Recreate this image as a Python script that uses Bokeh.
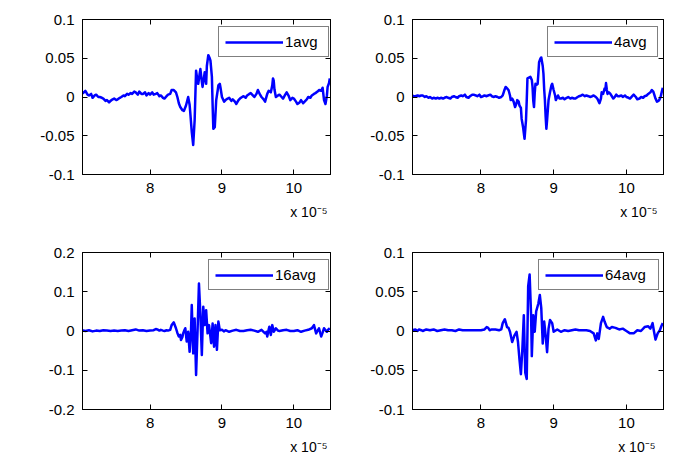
from bokeh.plotting import figure
from bokeh.layouts import column, row
from bokeh.models import Range1d, FixedTicker, LinearAxis, Legend, LegendItem, Title
from bokeh.embed import file_html
from bokeh.resources import INLINE

FONT = "Liberation Sans"
BLUE = "#0000ff"

# ---------------- data (time in units of 1e-5 s) ----------------
t_1avg = [7.05, 7.08, 7.10, 7.13, 7.15, 7.18, 7.20, 7.23, 7.25, 7.28,
          7.30, 7.33, 7.35, 7.38, 7.40, 7.43, 7.45, 7.48, 7.50, 7.53,
          7.55, 7.58, 7.60, 7.63, 7.65, 7.68, 7.70, 7.73, 7.75, 7.78,
          7.80, 7.83, 7.85, 7.88, 7.90, 7.93, 7.95, 7.98, 8.00, 8.03,
          8.05, 8.08, 8.10, 8.13, 8.15, 8.18, 8.20, 8.23, 8.25, 8.28,
          8.30, 8.33, 8.36, 8.38, 8.40, 8.42, 8.45, 8.47, 8.50, 8.53,
          8.55, 8.56, 8.58, 8.60, 8.62, 8.64, 8.66, 8.67, 8.69, 8.70,
          8.72, 8.73, 8.75, 8.76, 8.78, 8.79, 8.81, 8.83, 8.84, 8.86,
          8.87, 8.88, 8.90, 8.92, 8.94, 8.95, 8.97, 8.98, 9.00, 9.03,
          9.05, 9.08, 9.10, 9.13, 9.15, 9.18, 9.20, 9.23, 9.25, 9.28,
          9.30, 9.33, 9.35, 9.38, 9.40, 9.43, 9.45, 9.48, 9.50, 9.53,
          9.55, 9.58, 9.60, 9.63, 9.65, 9.68, 9.70, 9.71, 9.72, 9.73,
          9.75, 9.78, 9.80, 9.83, 9.85, 9.88, 9.90, 9.93, 9.95, 9.98,
          10.00, 10.03, 10.05, 10.08, 10.10, 10.13, 10.15, 10.18, 10.20, 10.23,
          10.25, 10.28, 10.30, 10.33, 10.35, 10.38, 10.40, 10.42, 10.44, 10.46,
          10.47, 10.49, 10.50]
v_1avg = [0.004, 0.006, 0.008, 0.003, 0.002, 0.004, -0.001, 0.002, 0.003, 0.000,
          0.000, -0.001, -0.002, -0.005, -0.004, -0.007, -0.005, -0.003, -0.002, -0.004,
          -0.003, -0.001, 0.000, 0.002, 0.001, 0.004, 0.003, 0.005, 0.004, 0.007,
          0.006, 0.003, 0.007, 0.004, 0.004, 0.006, 0.002, 0.005, 0.003, 0.006,
          0.003, 0.004, 0.005, 0.001, 0.002, -0.001, -0.002, 0.001, 0.003, 0.004,
          0.009, 0.009, 0.006, 0.000, -0.008, -0.013, -0.017, -0.018, -0.011, 0.000,
          -0.010, -0.021, -0.045, -0.062, -0.030, 0.034, 0.020, 0.017, 0.030, 0.036,
          0.020, 0.013, 0.025, 0.032, 0.017, 0.040, 0.054, 0.050, 0.047, 0.026,
          -0.010, -0.041, -0.039, -0.004, 0.008, 0.015, 0.017, 0.012, 0.000, -0.006,
          -0.004, -0.002, -0.001, -0.005, -0.003, -0.006, -0.009, -0.004, -0.002, 0.000,
          0.001, -0.001, 0.002, 0.004, 0.005, 0.002, 0.000, 0.004, 0.009, 0.003,
          0.000, -0.003, -0.006, 0.004, 0.008, 0.006, 0.015, 0.024, 0.021, 0.010,
          0.000, 0.002, 0.003, 0.000, -0.002, 0.003, 0.006, 0.001, -0.004, -0.001,
          -0.002, -0.006, -0.009, -0.007, -0.004, -0.008, -0.006, -0.003, 0.000, -0.001,
          0.002, 0.004, 0.005, 0.007, 0.009, 0.008, 0.012, -0.004, -0.009, 0.002,
          0.013, 0.018, 0.024]

t_4avg = [7.05, 7.08, 7.10, 7.13, 7.15, 7.18, 7.20, 7.23, 7.25, 7.28,
          7.30, 7.33, 7.35, 7.38, 7.40, 7.43, 7.45, 7.48, 7.50, 7.53,
          7.55, 7.58, 7.60, 7.63, 7.65, 7.68, 7.70, 7.73, 7.75, 7.78,
          7.80, 7.83, 7.85, 7.88, 7.90, 7.93, 7.95, 7.98, 8.00, 8.03,
          8.05, 8.08, 8.10, 8.13, 8.15, 8.18, 8.20, 8.23, 8.25, 8.28,
          8.30, 8.32, 8.34, 8.36, 8.38, 8.40, 8.41, 8.43, 8.45, 8.47,
          8.49, 8.50, 8.52, 8.53, 8.55, 8.56, 8.58, 8.60, 8.62, 8.63,
          8.64, 8.66, 8.68, 8.70, 8.71, 8.72, 8.73, 8.74, 8.75, 8.77,
          8.78, 8.79, 8.80, 8.82, 8.83, 8.85, 8.86, 8.87, 8.88, 8.89,
          8.90, 8.91, 8.93, 8.95, 8.97, 8.98, 9.00, 9.02, 9.03, 9.05,
          9.06, 9.08, 9.10, 9.13, 9.15, 9.18, 9.20, 9.23, 9.25, 9.28,
          9.30, 9.33, 9.35, 9.38, 9.40, 9.43, 9.45, 9.48, 9.50, 9.53,
          9.55, 9.58, 9.60, 9.62, 9.63, 9.65, 9.66, 9.68, 9.70, 9.71,
          9.72, 9.73, 9.74, 9.76, 9.78, 9.80, 9.82, 9.84, 9.86, 9.88,
          9.90, 9.93, 9.95, 9.98, 10.00, 10.03, 10.05, 10.08, 10.10, 10.13,
          10.15, 10.18, 10.20, 10.23, 10.25, 10.28, 10.30, 10.33, 10.35, 10.37,
          10.38, 10.40, 10.42, 10.44, 10.45, 10.47, 10.48, 10.50]
v_4avg = [0.002, 0.001, 0.001, 0.002, 0.001, 0.002, 0.002, 0.000, 0.001, -0.001,
          0.000, -0.002, -0.001, -0.002, -0.001, -0.002, -0.001, -0.002, -0.001, 0.000,
          -0.001, -0.002, 0.000, 0.001, 0.000, -0.001, 0.001, 0.002, 0.001, 0.003,
          0.000, -0.001, 0.001, 0.003, 0.003, 0.002, 0.001, 0.003, 0.000, 0.001,
          0.002, 0.001, 0.002, 0.003, 0.001, 0.000, 0.001, 0.000, -0.001, 0.000,
          0.002, 0.008, 0.013, 0.011, 0.009, 0.002, -0.004, -0.002, -0.006, -0.013,
          -0.008, -0.004, -0.006, -0.011, -0.014, -0.028, -0.039, -0.054, -0.030, -0.005,
          0.024, 0.025, 0.026, 0.022, 0.013, -0.005, -0.013, 0.005, 0.017, 0.016,
          0.017, 0.030, 0.045, 0.050, 0.051, 0.040, 0.030, 0.010, -0.004, -0.025,
          -0.041, -0.030, -0.004, 0.006, 0.015, 0.017, 0.009, 0.002, -0.004, 0.000,
          0.002, -0.002, -0.002, -0.001, -0.003, -0.001, 0.000, -0.002, -0.001, -0.002,
          -0.002, 0.000, 0.001, 0.002, 0.003, 0.001, 0.002, 0.001, 0.000, 0.001,
          0.002, 0.000, -0.002, -0.006, -0.008, -0.002, 0.006, 0.004, 0.011, 0.009,
          0.018, 0.010, 0.004, 0.006, 0.004, 0.001, -0.002, 0.000, 0.003, 0.001,
          0.001, 0.002, 0.000, 0.002, 0.000, -0.001, -0.002, 0.001, 0.003, 0.000,
          -0.003, -0.002, 0.000, -0.001, 0.001, 0.002, 0.004, 0.006, 0.009, 0.007,
          0.004, -0.002, -0.006, -0.005, -0.004, 0.000, 0.004, 0.012]

t_16avg = [7.05, 7.10, 7.15, 7.20, 7.25, 7.30, 7.35, 7.40, 7.45, 7.50,
           7.55, 7.60, 7.65, 7.70, 7.75, 7.80, 7.85, 7.90, 7.95, 8.00,
           8.05, 8.08, 8.10, 8.13, 8.15, 8.18, 8.20, 8.23, 8.25, 8.28,
           8.30, 8.33, 8.36, 8.38, 8.40, 8.42, 8.43, 8.45, 8.46, 8.48,
           8.49, 8.51, 8.53, 8.55, 8.57, 8.58, 8.60, 8.62, 8.64, 8.66,
           8.68, 8.70, 8.72, 8.74, 8.76, 8.78, 8.80, 8.82, 8.85, 8.87,
           8.89, 8.91, 8.93, 8.95, 8.97, 9.00, 9.03, 9.05, 9.10, 9.15,
           9.20, 9.25, 9.30, 9.35, 9.40, 9.45, 9.50, 9.55, 9.60, 9.62,
           9.63, 9.65, 9.66, 9.68, 9.70, 9.72, 9.75, 9.78, 9.80, 9.85,
           9.90, 9.95, 10.00, 10.05, 10.10, 10.15, 10.20, 10.25, 10.28, 10.31,
           10.35, 10.38, 10.40, 10.42, 10.44, 10.46, 10.48, 10.50]
v_16avg = [0.002, 0.000, 0.002, -0.001, 0.001, 0.000, 0.002, 0.001, 0.000, 0.001,
           0.000, 0.001, 0.002, 0.000, 0.002, 0.004, 0.001, 0.002, 0.000, 0.001,
           0.002, 0.005, 0.004, 0.001, 0.003, 0.001, 0.000, 0.002, 0.001, 0.003,
           0.015, 0.022, 0.007, -0.005, -0.014, -0.010, -0.023, -0.015, -0.006, 0.003,
           0.007, -0.027, -0.002, -0.053, 0.003, 0.066, -0.057, 0.032, -0.112, -0.002,
           0.121, 0.041, -0.061, 0.062, 0.015, 0.053, -0.006, 0.015, -0.031, 0.019,
           -0.040, 0.015, -0.048, 0.024, 0.002, 0.003, -0.001, 0.002, -0.002, 0.001,
           0.003, 0.000, 0.000, 0.002, 0.003, 0.001, -0.002, 0.003, -0.006, -0.002,
           -0.014, 0.004, 0.011, -0.010, 0.015, -0.002, 0.007, 0.001, 0.000, 0.002,
           0.003, 0.000, 0.000, 0.002, -0.002, 0.001, 0.003, 0.007, 0.015, -0.006,
           0.007, -0.014, -0.004, 0.007, 0.002, -0.002, 0.004, 0.007]

t_64avg = [7.05, 7.08, 7.10, 7.13, 7.15, 7.18, 7.20, 7.25, 7.30, 7.35,
           7.40, 7.45, 7.50, 7.55, 7.60, 7.65, 7.70, 7.75, 7.80, 7.85,
           7.90, 7.95, 8.00, 8.05, 8.08, 8.10, 8.12, 8.15, 8.20, 8.25,
           8.28, 8.30, 8.33, 8.36, 8.38, 8.40, 8.43, 8.46, 8.49, 8.51,
           8.53, 8.55, 8.57, 8.59, 8.61, 8.63, 8.65, 8.67, 8.69, 8.70,
           8.72, 8.74, 8.76, 8.79, 8.81, 8.83, 8.85, 8.87, 8.89, 8.91,
           8.93, 8.95, 8.98, 9.00, 9.05, 9.10, 9.15, 9.20, 9.25, 9.30,
           9.35, 9.40, 9.45, 9.50, 9.55, 9.58, 9.60, 9.62, 9.65, 9.68,
           9.70, 9.73, 9.77, 9.80, 9.85, 9.90, 9.95, 10.00, 10.05, 10.10,
           10.15, 10.20, 10.25, 10.30, 10.33, 10.36, 10.38, 10.40, 10.43, 10.46,
           10.48, 10.50]
v_64avg = [0.002, 0.001, 0.002, 0.000, 0.002, 0.001, 0.000, 0.002, 0.001, 0.002,
           0.000, 0.001, 0.002, 0.001, 0.001, 0.000, 0.002, 0.001, 0.001, 0.001,
           0.001, 0.001, 0.001, 0.002, 0.005, 0.004, 0.001, 0.002, 0.002, 0.001,
           0.002, 0.010, 0.015, 0.005, 0.004, -0.001, -0.014, -0.006, -0.001, -0.014,
           -0.036, -0.055, -0.023, 0.020, -0.053, -0.061, 0.057, 0.072, 0.020, -0.032,
           0.020, -0.001, 0.025, 0.035, 0.046, 0.029, -0.016, 0.012, -0.006, -0.027,
           0.003, 0.014, 0.010, -0.001, 0.002, -0.001, 0.001, 0.000, 0.001, 0.002,
           0.001, 0.001, 0.001, 0.000, -0.003, -0.012, -0.003, -0.010, 0.010, 0.018,
           0.012, 0.005, 0.003, 0.005, 0.004, 0.002, 0.003, 0.000, -0.003, -0.003,
           0.001, 0.000, 0.005, 0.006, 0.003, 0.010, -0.001, -0.011, -0.003, 0.001,
           0.006, 0.010]

x_ticks = [8, 9, 10]
x_tick_labels = ["8", "9", "10"]
y_ticks_small = [-0.1, -0.05, 0, 0.05, 0.1]
y_tick_labels_small = ["-0.1", "-0.05", "0", "0.05", "0.1"]
y_ticks_large = [-0.2, -0.1, 0, 0.1, 0.2]
y_tick_labels_large = ["-0.2", "-0.1", "0", "0.1", "0.2"]
names = ["1avg", "4avg", "16avg", "64avg"]
x_scale_text = "x 10\u207b\u2075"


def style_axis(ax, ticks, labels, show):
    ax.ticker = FixedTicker(ticks=ticks)
    if show:
        ax.major_label_overrides = {tk: lb for tk, lb in zip(ticks, labels)}
        ax.major_label_text_font_size = "15px"
        ax.major_label_standoff = 8
    else:
        ax.major_label_overrides = {tk: "" for tk in ticks}
        ax.major_label_text_font_size = "1px"
        ax.major_label_standoff = 0
    ax.major_tick_in = 5
    ax.major_tick_out = 0
    ax.minor_tick_line_color = None
    ax.axis_line_color = "black"
    ax.major_tick_line_color = "black"
    ax.major_label_text_color = "black"
    ax.major_label_text_font = FONT


def panel(t, v, name, yticks, ylabels, ylim, bl, br, bt, bb, fw, fh, leg_xy, label_w, t_off):
    p = figure(frame_width=fw, frame_height=fh,
               x_range=Range1d(7.06, 10.51), y_range=Range1d(*ylim),
               output_backend="svg", toolbar_location=None,
               x_axis_type=None, y_axis_type=None,
               min_border_left=bl, min_border_right=br,
               min_border_top=bt, min_border_bottom=bb)
    p.xgrid.visible = False
    p.ygrid.visible = False
    p.outline_line_color = "black"
    p.background_fill_color = "white"
    p.border_fill_color = "white"

    xb = LinearAxis(); style_axis(xb, x_ticks, x_tick_labels, True); p.add_layout(xb, "below")
    xa = LinearAxis(); style_axis(xa, x_ticks, x_tick_labels, False); p.add_layout(xa, "above")
    yl = LinearAxis(); style_axis(yl, yticks, ylabels, True); p.add_layout(yl, "left")
    yr = LinearAxis(); style_axis(yr, yticks, ylabels, False); p.add_layout(yr, "right")

    p.add_layout(Title(text=x_scale_text, align="right", offset=t_off, standoff=12,
                       text_font=FONT, text_font_size="14px", text_font_style="normal",
                       text_color="black"), "below")

    r = p.line(t, v, line_color=BLUE, line_width=2.5, line_join="round")

    leg = Legend(items=[LegendItem(label=name, renderers=[r])], location=leg_xy,
                 border_line_color="black", border_line_width=1,
                 background_fill_color="white", background_fill_alpha=1,
                 label_text_font=FONT, label_text_font_size="15px",
                 label_text_color="black",
                 glyph_width=58, glyph_height=16, label_standoff=2,
                 label_width=label_w, label_height=16,
                 padding=6, spacing=0, margin=0)
    p.add_layout(leg)
    return p


p1 = panel(t_1avg, v_1avg, names[0], y_ticks_small, y_tick_labels_small, (-0.1, 0.1),
           82, 20, 19, 59, 248, 155, (136, 117), 37, 3)
p2 = panel(t_4avg, v_4avg, names[1], y_ticks_small, y_tick_labels_small, (-0.1, 0.1),
           62, 30, 19, 59, 251, 155, (135, 117), 37, 6)
p3 = panel(t_16avg, v_16avg, names[2], y_ticks_large, y_tick_labels_large, (-0.2, 0.2),
           82, 20, 19, 63, 248, 157, (126, 119), 47, 3)
p4 = panel(t_64avg, v_64avg, names[3], y_ticks_small, y_tick_labels_small, (-0.1, 0.1),
           62, 30, 19, 63, 251, 157, (126, 119), 47, 8)

layout = column(row(p1, p2, spacing=0), row(p3, p4, spacing=0), spacing=0)
open("out.html", "w").write(file_html(layout, INLINE))
